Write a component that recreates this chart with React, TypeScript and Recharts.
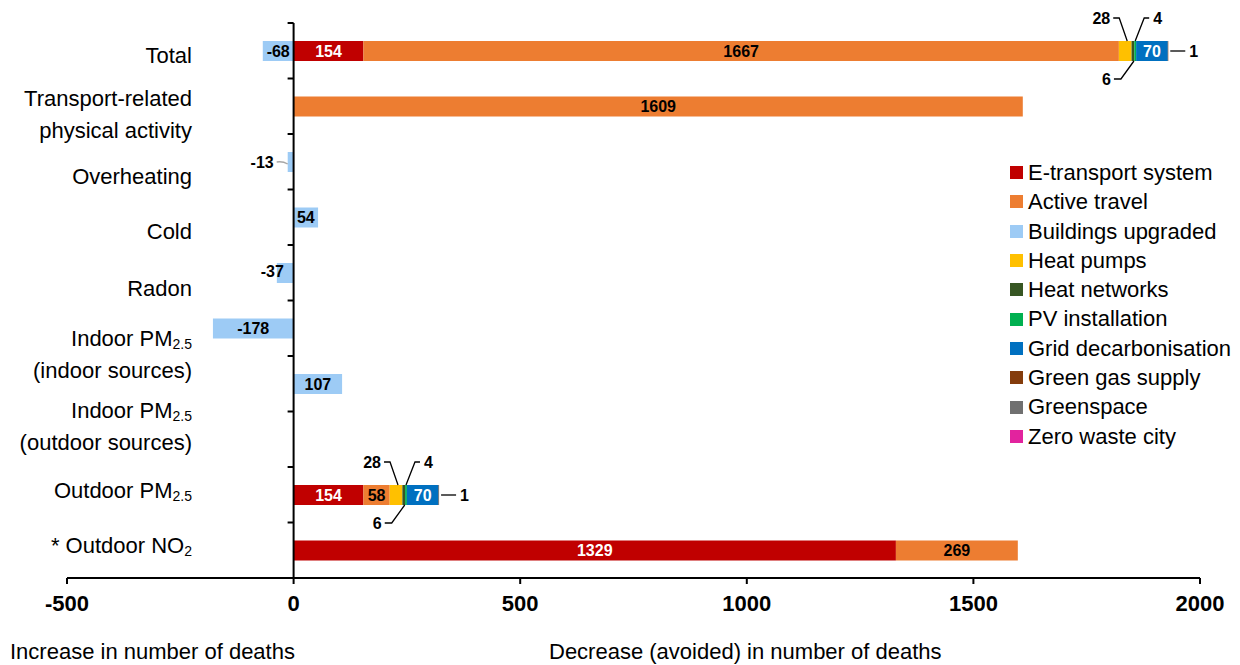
import React from "react";
import { BarChart, Bar, XAxis, YAxis, ReferenceLine, LabelList } from "recharts";

// ---- data ----
const CATEGORIES = [
  "Total",
  "Transport-related\nphysical activity",
  "Overheating",
  "Cold",
  "Radon",
  "Indoor PM_2.5\n(indoor sources)",
  "Indoor PM_2.5\n(outdoor sources)",
  "",
  "Outdoor PM_2.5",
  "* Outdoor NO_2",
];

const E_TRANSPORT = [154, null, null, null, null, null, null, null, 154, 1329];
const ACTIVE_TRAVEL = [1667, 1609, null, null, null, null, null, null, 58, 269];
const BUILDINGS = [-68, null, -13, 54, -37, -178, 107, null, null, null];
const HEAT_PUMPS = [28, null, null, null, null, null, null, null, 28, null];
const HEAT_NETWORKS = [6, null, null, null, null, null, null, null, 6, null];
const PV_INSTALLATION = [4, null, null, null, null, null, null, null, 4, null];
const GRID = [70, null, null, null, null, null, null, null, 70, null];
const GREEN_GAS = [1, null, null, null, null, null, null, null, 1, null];
const GREENSPACE = [null, null, null, null, null, null, null, null, null, null];
const ZERO_WASTE = [null, null, null, null, null, null, null, null, null, null];

const X_TICKS = [-500, 0, 500, 1000, 1500, 2000];

const SERIES = [
  { key: "eTransport", name: "E-transport system", color: "#C00000", values: E_TRANSPORT, mode: "white" },
  { key: "active", name: "Active travel", color: "#ED7D31", values: ACTIVE_TRAVEL, mode: "black" },
  { key: "buildings", name: "Buildings upgraded", color: "#9DCBF5", values: BUILDINGS, mode: "buildings" },
  { key: "heatPumps", name: "Heat pumps", color: "#FFC000", values: HEAT_PUMPS, mode: "upLeft" },
  { key: "heatNetworks", name: "Heat networks", color: "#375623", values: HEAT_NETWORKS, mode: "downLeft" },
  { key: "pv", name: "PV installation", color: "#00B050", values: PV_INSTALLATION, mode: "upRight" },
  { key: "grid", name: "Grid decarbonisation", color: "#0070C0", values: GRID, mode: "white" },
  { key: "greenGas", name: "Green gas supply", color: "#843C0C", values: GREEN_GAS, mode: "right" },
  { key: "greenspace", name: "Greenspace", color: "#707070", values: GREENSPACE, mode: "black" },
  { key: "zeroWaste", name: "Zero waste city", color: "#E2239E", values: ZERO_WASTE, mode: "black" },
];

const data = CATEGORIES.map((name, i) => {
  const row: Record<string, any> = { name };
  SERIES.forEach((s) => {
    row[s.key] = s.values[i];
  });
  return row;
});

// ---- layout ----
const FONT = "'Liberation Sans', Arial, sans-serif";
const W = 1240;
const H = 665;
const PLOT_LEFT = 67;
const PLOT_RIGHT = 1200;
const PLOT_TOP = 23;
const PLOT_BOTTOM = 578;
const Y_AXIS_W = 60;
const X_AXIS_H = 40;
const DOMAIN: [number, number] = [-500, 2000];
const ZERO_X = PLOT_LEFT + ((0 - DOMAIN[0]) / (DOMAIN[1] - DOMAIN[0])) * (PLOT_RIGHT - PLOT_LEFT);
const BAND = (PLOT_BOTTOM - PLOT_TOP) / CATEGORIES.length;
const LABEL_RIGHT = 192;
// excel placed the wrapped category labels a bit off the band centres
const LABEL_DY = [4, 8, 14, 14, 15, 26, 42, 0, -5, -5];

function renderSub(line: string) {
  const [main, sub] = line.split("_");
  return (
    <>
      <tspan>{main}</tspan>
      {sub && (
        <tspan fontSize={14} dy={6}>
          {sub}
        </tspan>
      )}
    </>
  );
}

function CategoryTick(props: any) {
  const { y, index, payload } = props;
  const label: string = payload.value || "";
  const lines = label ? label.split("\n") : [];
  const cy = y + (LABEL_DY[index] || 0);
  const n = lines.length;
  return (
    <g>
      <line x1={ZERO_X - 6} x2={ZERO_X} y1={y - BAND / 2} y2={y - BAND / 2} stroke="#000" strokeWidth={2} />
      {index === CATEGORIES.length - 1 && (
        <line x1={ZERO_X - 6} x2={ZERO_X} y1={y + BAND / 2} y2={y + BAND / 2} stroke="#000" strokeWidth={2} />
      )}
      {lines.map((ln, i) => (
        <text
          key={i}
          x={LABEL_RIGHT}
          y={cy + (i - (n - 1) / 2) * 32}
          textAnchor="end"
          dominantBaseline="central"
          fontSize={22}
          fill="#000"
        >
          {renderSub(ln)}
        </text>
      ))}
    </g>
  );
}

function makeLabel(mode: string) {
  return (props: any) => {
    const vb = props.viewBox || props;
    const value = props.value;
    if (value == null || value === 0) return null;
    const x = vb.x ?? props.x;
    const y = vb.y ?? props.y;
    const width = vb.width ?? props.width;
    const height = vb.height ?? props.height;
    const left = Math.min(x, x + width);
    const w = Math.abs(width);
    const top = Math.min(y, y + height);
    const h = Math.abs(height);
    const right = left + w;
    const bottom = top + h;
    const cx = left + w / 2;
    const cy = top + h / 2;
    const txt = { fontSize: 16, fontWeight: 700, dominantBaseline: "central" as const };
    const line = { fill: "none", stroke: "#000", strokeWidth: 1.3 };

    if (mode === "white" || mode === "black") {
      return (
        <text x={cx} y={cy} textAnchor="middle" fill={mode === "white" ? "#fff" : "#000"} {...txt}>
          {value}
        </text>
      );
    }
    if (mode === "buildings") {
      if (value > 0 || w >= 25) {
        return (
          <text x={cx} y={cy} textAnchor="middle" fill="#000" {...txt}>
            {value}
          </text>
        );
      }
      if (Math.abs(value) < 20) {
        return (
          <g>
            <path d={`M${left - 11},${cy} Q${left - 5},${cy - 1} ${left},${cy + 2}`} stroke="#A6A6A6" strokeWidth={1.3} fill="none" />
            <text x={left - 14} y={cy} textAnchor="end" fill="#000" {...txt}>
              {value}
            </text>
          </g>
        );
      }
      return (
        <text x={left + 7} y={cy - 2} textAnchor="end" fill="#000" {...txt}>
          {value}
        </text>
      );
    }
    if (mode === "upLeft") {
      const ty = top - 23;
      return (
        <g>
          <polyline points={`${cx - 12},${ty} ${cx - 6},${ty} ${cx + 2},${top}`} {...line} />
          <text x={cx - 15} y={ty} textAnchor="end" fill="#000" {...txt}>
            {value}
          </text>
        </g>
      );
    }
    if (mode === "downLeft") {
      const ty = bottom + 18;
      return (
        <g>
          <polyline points={`${cx - 19},${ty} ${cx - 12},${ty} ${cx + 1},${bottom}`} {...line} />
          <text x={cx - 22} y={ty} textAnchor="end" fill="#000" {...txt}>
            {value}
          </text>
        </g>
      );
    }
    if (mode === "upRight") {
      const ty = top - 23;
      return (
        <g>
          <polyline points={`${cx},${top} ${cx + 9},${ty} ${cx + 14},${ty}`} {...line} />
          <text x={cx + 18} y={ty} textAnchor="start" fill="#000" {...txt}>
            {value}
          </text>
        </g>
      );
    }
    // right
    return (
      <g>
        <polyline points={`${right + 2},${cy} ${right + 17},${cy}`} {...line} />
        <text x={right + 21} y={cy} textAnchor="start" fill="#000" {...txt}>
          {value}
        </text>
      </g>
    );
  };
}

export default function App() {
  return (
    <div style={{ position: "absolute", left: 0, top: 0, width: W, height: H, fontFamily: FONT, background: "#fff" }}>
      <BarChart
        width={W}
        height={H}
        data={data}
        layout="vertical"
        stackOffset="sign"
        barSize={20}
        margin={{ top: PLOT_TOP, right: W - PLOT_RIGHT, bottom: H - PLOT_BOTTOM - X_AXIS_H, left: PLOT_LEFT - Y_AXIS_W }}
      >
        <XAxis
          type="number"
          domain={DOMAIN}
          ticks={X_TICKS}
          interval={0}
          height={X_AXIS_H}
          axisLine={{ stroke: "#000", strokeWidth: 2 }}
          tickLine={{ stroke: "#000", strokeWidth: 2 }}
          tickSize={6}
          tickMargin={11}
          tick={{ fontSize: 22, fontWeight: 700, fill: "#000" }}
        />
        <YAxis
          type="category"
          dataKey="name"
          width={Y_AXIS_W}
          axisLine={false}
          tickLine={false}
          interval={0}
          tick={<CategoryTick />}
        />
        {SERIES.map((s) => (
          <Bar key={s.key} dataKey={s.key} name={s.name} stackId="a" fill={s.color} isAnimationActive={false}>
            <LabelList dataKey={s.key} content={makeLabel(s.mode)} />
          </Bar>
        ))}
        <ReferenceLine x={0} stroke="#000" strokeWidth={2} />
      </BarChart>

      {/* legend */}
      <div style={{ position: "absolute", left: 1010, top: 158, fontSize: 22, lineHeight: "29.3px", color: "#000" }}>
        {SERIES.map((s) => (
          <div key={s.key} style={{ display: "flex", alignItems: "center", whiteSpace: "nowrap" }}>
            <span style={{ display: "inline-block", width: 13, height: 13, background: s.color, marginRight: 5 }} />
            {s.name}
          </div>
        ))}
      </div>

      <div style={{ position: "absolute", left: 10, top: 639, fontSize: 22, color: "#000", whiteSpace: "nowrap" }}>
        Increase in number of deaths
      </div>
      <div style={{ position: "absolute", left: 549, top: 639, fontSize: 22, color: "#000", whiteSpace: "nowrap" }}>
        Decrease (avoided) in number of deaths
      </div>
    </div>
  );
}
